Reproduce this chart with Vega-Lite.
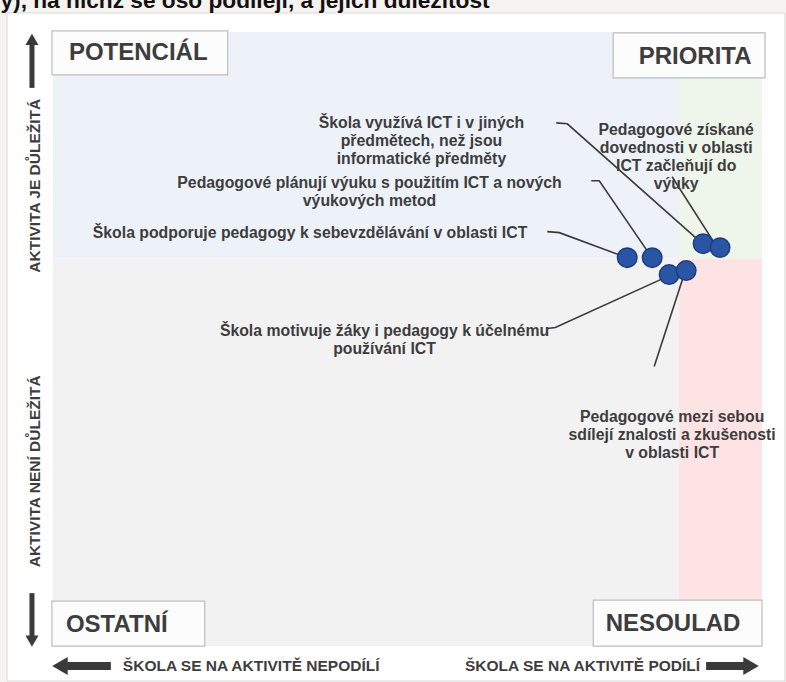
{
  "$schema": "https://vega.github.io/schema/vega-lite/v6.json",
  "width": 786,
  "height": 682,
  "autosize": {"type": "fit", "contains": "padding"},
  "padding": 0,
  "background": "#f6f2ef",
  "config": {"view": {"stroke": null}, "font": "Liberation Sans"},
  "datasets": {
    "regions": [
      {"name": "page", "x1": -6.479, "x2": 103.239, "y1": -5.691, "y2": 103.09, "fill": "#ffffff"},
      {"name": "potencial", "x1": 0, "x2": 88.3, "y1": 63.1, "y2": 100, "fill": "#edf2f9"},
      {"name": "priorita", "x1": 88.3, "x2": 100, "y1": 63.1, "y2": 100, "fill": "#eef5ea"},
      {"name": "ostatni", "x1": 0, "x2": 88.3, "y1": 0, "y2": 63.1, "fill": "#f2f2f2"},
      {"name": "nesoulad", "x1": 88.3, "x2": 100, "y1": 0, "y2": 63.1, "fill": "#fde3e4"}
    ],
    "boxes": [
      {"label": "POTENCIÁL", "x1": -0.14, "x2": 24.65, "y1": 93.0, "y2": 100.16, "tx": 2.25, "ty": 96.59, "align": "left"},
      {"label": "PRIORITA", "x1": 79.01, "x2": 100.42, "y1": 92.52, "y2": 99.84, "tx": 90.56, "ty": 96.0, "align": "center"},
      {"label": "OSTATNÍ", "x1": -0.14, "x2": 21.41, "y1": 0, "y2": 7.32, "tx": 1.83, "ty": 3.4, "align": "left"},
      {"label": "NESOULAD", "x1": 76.2, "x2": 100, "y1": 0, "y2": 7.48, "tx": 87.46, "ty": 3.6, "align": "center"}
    ],
    "points": [
      {"activity": "Škola podporuje pedagogy k sebevzdělávání v oblasti ICT", "podil": 80.99, "dulezitost": 63.25},
      {"activity": "Pedagogové plánují výuku s použitím ICT a nových výukových metod", "podil": 84.51, "dulezitost": 63.25},
      {"activity": "Škola využívá ICT i v jiných předmětech, než jsou informatické předměty", "podil": 91.69, "dulezitost": 65.53},
      {"activity": "Pedagogové získané dovednosti v oblasti ICT začleňují do výuky", "podil": 94.08, "dulezitost": 64.88},
      {"activity": "Škola motivuje žáky i pedagogy k účelnému používání ICT", "podil": 86.9, "dulezitost": 60.49},
      {"activity": "Pedagogové mezi sebou sdílejí znalosti a zkušenosti v oblasti ICT", "podil": 89.3, "dulezitost": 61.14}
    ],
    "leaders": [
      {"g": 1, "o": 1, "x": 69.72, "y": 67.48}, {"g": 1, "o": 2, "x": 71.41, "y": 67.32}, {"g": 1, "o": 3, "x": 80.56, "y": 63.41},
      {"g": 2, "o": 1, "x": 75.92, "y": 75.77}, {"g": 2, "o": 2, "x": 77.04, "y": 75.77}, {"g": 2, "o": 3, "x": 84.08, "y": 63.9},
      {"g": 3, "o": 1, "x": 70.99, "y": 85.2}, {"g": 3, "o": 2, "x": 72.54, "y": 85.04}, {"g": 3, "o": 3, "x": 91.27, "y": 65.85},
      {"g": 4, "o": 1, "x": 87.32, "y": 76.42}, {"g": 4, "o": 2, "x": 93.52, "y": 65.2},
      {"g": 5, "o": 1, "x": 69.72, "y": 51.71}, {"g": 5, "o": 2, "x": 70.85, "y": 51.87}, {"g": 5, "o": 3, "x": 86.62, "y": 60.16},
      {"g": 6, "o": 1, "x": 84.79, "y": 45.53}, {"g": 6, "o": 2, "x": 89.15, "y": 60.98}
    ],
    "labels": [
      {"text": "Škola podporuje pedagogy k sebevzdělávání v oblasti ICT", "x": 66.9, "y": 67.32, "align": "right"},
      {"text": "Pedagogové plánují výuku s použitím ICT a nových\nvýukových metod", "x": 44.65, "y": 75.45, "align": "center"},
      {"text": "Škola využívá ICT i v jiných\npředmětech, než jsou\ninformatické předměty", "x": 51.97, "y": 85.2, "align": "center"},
      {"text": "Pedagogové získané\ndovednosti v oblasti\nICT začleňují do\nvýuky", "x": 87.89, "y": 84.07, "align": "center"},
      {"text": "Škola motivuje žáky i pedagogy k účelnému\npoužívání ICT", "x": 46.76, "y": 51.38, "align": "center"},
      {"text": "Pedagogové mezi sebou\nsdílejí znalosti a zkušenosti\nv oblasti ICT", "x": 87.32, "y": 37.24, "align": "center"}
    ],
    "shafts": [
      {"x": -2.958, "x2": -2.958, "y": 90.89, "y2": 98.2, "w": 5},
      {"x": -2.958, "x2": -2.958, "y": 8.62, "y2": 1.6, "w": 5},
      {"x": 8.17, "x2": 1.6, "y": -3.252, "y2": -3.252, "w": 8},
      {"x": 92.11, "x2": 97.6, "y": -3.252, "y2": -3.252, "w": 8}
    ],
    "heads": [
      {"x": -2.958, "y": 98.8, "shape": "triangle-up", "s": 170},
      {"x": -2.958, "y": 0.81, "shape": "triangle-down", "s": 170},
      {"x": 0.99, "y": -3.252, "shape": "triangle-left", "s": 320},
      {"x": 98.45, "y": -3.252, "shape": "triangle-right", "s": 320}
    ],
    "sidetext": [
      {"text": "AKTIVITA JE DŮLEŽITÁ", "x": -2.535, "y": 74.96},
      {"text": "AKTIVITA NENÍ DŮLEŽITÁ", "x": -2.535, "y": 28.46}
    ],
    "bottomtext": [
      {"text": "ŠKOLA SE NA AKTIVITĚ NEPODÍLÍ", "x": 9.86, "y": -3.252, "align": "left"},
      {"text": "ŠKOLA SE NA AKTIVITĚ PODÍLÍ", "x": 91.27, "y": -3.252, "align": "right"}
    ],
    "title": [
      {"text": "y), na nichž se ošo podílejí, a jejich důležitost", "x": -7.4, "y": 103.9}
    ]
  },
  "encoding": {},
  "layer": [
    {
      "data": {"name": "regions"},
      "mark": {"type": "rect"},
      "encoding": {
        "x": {"field": "x1", "type": "quantitative", "scale": {"domain": [-7.465, 103.239], "nice": false, "zero": false}, "axis": null},
        "x2": {"field": "x2"},
        "y": {"field": "y1", "type": "quantitative", "scale": {"domain": [-5.691, 105.203], "nice": false, "zero": false}, "axis": null},
        "y2": {"field": "y2"},
        "fill": {"field": "fill", "type": "nominal", "scale": null},
        "stroke": {"condition": {"test": "datum.name === 'page'", "value": "#d9d9d9"}, "value": null}
      }
    },
    {
      "data": {"name": "title"},
      "mark": {"type": "text", "align": "left", "baseline": "alphabetic", "fontSize": 22.7, "fontWeight": "bold", "color": "#111111", "clip": true},
      "encoding": {
        "x": {"field": "x", "type": "quantitative"},
        "y": {"field": "y", "type": "quantitative"},
        "text": {"field": "text"}
      }
    },
    {
      "data": {"name": "boxes"},
      "mark": {"type": "rect", "fill": "#fcfcfc", "stroke": "#bdbdbd", "strokeWidth": 1.2},
      "encoding": {
        "x": {"field": "x1", "type": "quantitative"},
        "x2": {"field": "x2"},
        "y": {"field": "y1", "type": "quantitative"},
        "y2": {"field": "y2"}
      }
    },
    {
      "data": {"name": "boxes"},
      "transform": [{"filter": "datum.align === 'left'"}],
      "mark": {"type": "text", "align": "left", "baseline": "middle", "fontSize": 24, "fontWeight": "bold", "color": "#3d3d3d"},
      "encoding": {
        "x": {"field": "tx", "type": "quantitative"},
        "y": {"field": "ty", "type": "quantitative"},
        "text": {"field": "label"}
      }
    },
    {
      "data": {"name": "boxes"},
      "transform": [{"filter": "datum.align === 'center'"}],
      "mark": {"type": "text", "align": "center", "baseline": "middle", "fontSize": 24, "fontWeight": "bold", "color": "#3d3d3d"},
      "encoding": {
        "x": {"field": "tx", "type": "quantitative"},
        "y": {"field": "ty", "type": "quantitative"},
        "text": {"field": "label"}
      }
    },
    {
      "data": {"name": "shafts"},
      "mark": {"type": "rule", "color": "#3a3a3a"},
      "encoding": {
        "x": {"field": "x", "type": "quantitative"},
        "x2": {"field": "x2"},
        "y": {"field": "y", "type": "quantitative"},
        "y2": {"field": "y2"},
        "strokeWidth": {"field": "w", "type": "quantitative", "scale": null}
      }
    },
    {
      "data": {"name": "heads"},
      "mark": {"type": "point", "filled": true, "color": "#3a3a3a", "opacity": 1},
      "encoding": {
        "x": {"field": "x", "type": "quantitative"},
        "y": {"field": "y", "type": "quantitative"},
        "shape": {"field": "shape", "type": "nominal", "scale": null},
        "size": {"field": "s", "type": "quantitative", "scale": null}
      }
    },
    {
      "data": {"name": "sidetext"},
      "mark": {"type": "text", "align": "center", "baseline": "middle", "angle": 270, "fontSize": 15.5, "fontWeight": "bold", "color": "#3d3d3d"},
      "encoding": {
        "x": {"field": "x", "type": "quantitative"},
        "y": {"field": "y", "type": "quantitative"},
        "text": {"field": "text"}
      }
    },
    {
      "data": {"name": "bottomtext"},
      "transform": [{"filter": "datum.align === 'left'"}],
      "mark": {"type": "text", "align": "left", "baseline": "middle", "fontSize": 15.5, "fontWeight": "bold", "color": "#3d3d3d"},
      "encoding": {
        "x": {"field": "x", "type": "quantitative"},
        "y": {"field": "y", "type": "quantitative"},
        "text": {"field": "text"}
      }
    },
    {
      "data": {"name": "bottomtext"},
      "transform": [{"filter": "datum.align === 'right'"}],
      "mark": {"type": "text", "align": "right", "baseline": "middle", "fontSize": 15.5, "fontWeight": "bold", "color": "#3d3d3d"},
      "encoding": {
        "x": {"field": "x", "type": "quantitative"},
        "y": {"field": "y", "type": "quantitative"},
        "text": {"field": "text"}
      }
    },
    {
      "data": {"name": "leaders"},
      "mark": {"type": "line", "color": "#3a3a3a", "strokeWidth": 1.6},
      "encoding": {
        "x": {"field": "x", "type": "quantitative"},
        "y": {"field": "y", "type": "quantitative"},
        "detail": {"field": "g", "type": "nominal"},
        "order": {"field": "o", "type": "quantitative"}
      }
    },
    {
      "data": {"name": "labels"},
      "transform": [{"filter": "datum.align === 'right'"}],
      "mark": {"type": "text", "align": "right", "baseline": "middle", "lineBreak": "\n", "lineHeight": 18, "fontSize": 15.8, "fontWeight": "bold", "color": "#3d3d3d"},
      "encoding": {
        "x": {"field": "x", "type": "quantitative"},
        "y": {"field": "y", "type": "quantitative"},
        "text": {"field": "text"}
      }
    },
    {
      "data": {"name": "labels"},
      "transform": [{"filter": "datum.align === 'center'"}],
      "mark": {"type": "text", "align": "center", "baseline": "middle", "lineBreak": "\n", "lineHeight": 18, "fontSize": 15.8, "fontWeight": "bold", "color": "#3d3d3d"},
      "encoding": {
        "x": {"field": "x", "type": "quantitative"},
        "y": {"field": "y", "type": "quantitative"},
        "text": {"field": "text"}
      }
    },
    {
      "data": {"name": "points"},
      "mark": {"type": "circle", "size": 380, "color": "#2a55a6", "stroke": "#1d3d7c", "strokeWidth": 1.5, "opacity": 1},
      "encoding": {
        "x": {"field": "podil", "type": "quantitative"},
        "y": {"field": "dulezitost", "type": "quantitative"},
        "tooltip": {"field": "activity"}
      }
    }
  ]
}
